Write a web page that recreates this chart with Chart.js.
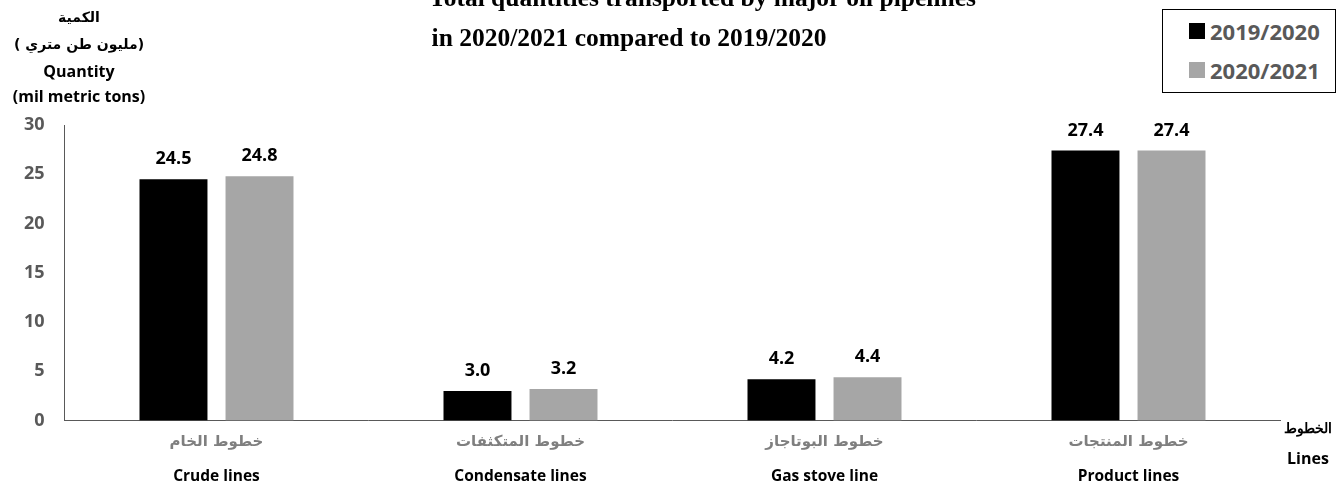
<!DOCTYPE html>
<html>
<head>
<meta charset="utf-8">
<script src="https://cdn.jsdelivr.net/npm/chart.js@4"></script>
<style>
    html, body { margin: 0; padding: 0; background: #fff; }
    #wrap { position: relative; width: 1338px; height: 487px; overflow: hidden; }
    #chart { position: absolute; left: 0; top: 0; }
    .title {
        position: absolute; left: 429px; width: 400px; text-align: center;
        font: bold 25.5px "Liberation Serif", serif; color: #000; white-space: nowrap;
    }
    .ytitle {
        position: absolute; left: 0; width: 158px; text-align: center;
        font: bold 16px "Open Sans", sans-serif; color: #000; white-space: nowrap;
    }
    .ar { font-family: "DejaVu Sans", sans-serif; font-size: 14px; font-weight: bold; }
    .paren { display: flex; justify-content: center; }
    #legend {
        position: absolute; left: 1162px; top: 9px; width: 172px; height: 82px;
        border: 1px solid #000; background: #fff;
    }
    .item {
        position: absolute; left: 26px; height: 26px; display: flex; align-items: center;
        font: bold 22px "Open Sans", sans-serif; color: #595959;
    }
    .swatch { width: 16px; height: 16px; margin-right: 5px; }
    .xtitle {
        position: absolute; width: 60px; left: 1278px; text-align: center;
        font: bold 16px "Open Sans", sans-serif; color: #000;
    }
</style>
</head>
<body>
<div id="wrap">
    <canvas id="chart" width="1338" height="487"></canvas>
    <div class="title" style="top:-17px">Total quantities transported by major oil pipelines</div>
    <div class="title" style="top:23px">in 2020/2021 compared to 2019/2020</div>
    <div class="ytitle ar" style="top:9px">الكمية</div>
    <div class="ytitle ar paren" style="top:36px"><span>(</span><span style="margin-left:5px" dir="rtl">مليون طن متري</span><span>)</span></div>
    <div class="ytitle" style="top:60px">Quantity</div>
    <div class="ytitle" style="top:85px">(mil metric tons)</div>
    <div class="xtitle ar" style="top:418px; font-size:14px">الخطوط</div>
    <div class="xtitle" style="top:447px">Lines</div>
    <div id="legend"></div>
</div>
<script>
const categoriesAr = ["خطوط الخام", "خطوط المتكثفات", "خطوط البوتاجاز", "خطوط المنتجات"];
const categoriesEn = ["Crude lines", "Condensate lines", "Gas stove line", "Product lines"];
const seriesNames = ["2019/2020", "2020/2021"];
const values2019 = [24.5, 3.0, 4.2, 27.4];
const values2020 = [24.8, 3.2, 4.4, 27.4];
const yTicks = [0, 5, 10, 15, 20, 25, 30];
const seriesColors = ["#000000", "#a6a6a6"];

const legendBox = document.getElementById("legend");
seriesNames.forEach((name, i) => {
    const item = document.createElement("div");
    item.className = "item";
    item.style.top = (i === 0 ? 8 : 47) + "px";
    item.innerHTML = '<span class="swatch" style="background:' + seriesColors[i] + '"></span>' + name;
    legendBox.appendChild(item);
});

const valueLabels = {
    id: "valueLabels",
    afterDatasetsDraw(chart) {
        const ctx = chart.ctx;
        ctx.save();
        ctx.font = "bold 18px 'Open Sans', sans-serif";
        ctx.fillStyle = "#000";
        ctx.textAlign = "center";
        ctx.textBaseline = "middle";
        chart.data.datasets.forEach((ds, i) => {
            chart.getDatasetMeta(i).data.forEach((bar, j) => {
                ctx.fillText(ds.data[j].toFixed(1), bar.x, bar.y - 20);
            });
        });
        ctx.restore();
    }
};

new Chart(document.getElementById("chart"), {
    type: "bar",
    data: {
        labels: categoriesAr,
        datasets: [
            { label: seriesNames[0], data: values2019, backgroundColor: seriesColors[0] },
            { label: seriesNames[1], data: values2020, backgroundColor: seriesColors[1] }
        ]
    },
    options: {
        responsive: false,
        animation: false,
        categoryPercentage: 0.566,
        barPercentage: 0.79,
        layout: { padding: { top: 125, right: 57.5, bottom: 0, left: 0 } },
        plugins: {
            legend: { display: false },
            tooltip: { enabled: false }
        },
        scales: {
            x: {
                grid: { display: false, drawTicks: false },
                border: { display: true, color: "#595959", width: 1 },
                ticks: {
                    padding: 13,
                    color: "#7f7f7f",
                    font: { family: "DejaVu Sans", size: 15, weight: "bold" }
                },
                afterFit: s => { s.height = 35; }
            },
            x2: {
                type: "category",
                position: "bottom",
                labels: categoriesEn,
                grid: { display: false, drawTicks: false },
                border: { display: false },
                ticks: {
                    padding: 12,
                    color: "#000",
                    font: { family: "Open Sans", size: 15.5, weight: "bold" }
                },
                afterFit: s => { s.height = 31.5; }
            },
            y: {
                min: 0,
                max: 30,
                afterBuildTicks: s => { s.ticks = yTicks.map(v => ({ value: v })); },
                grid: { display: false, drawTicks: false },
                border: { display: true, color: "#595959", width: 1 },
                ticks: {
                    padding: 20,
                    color: "#595959",
                    font: { family: "Open Sans", size: 18, weight: "bold" }
                },
                afterFit: s => { s.width = 64.5; }
            }
        }
    },
    plugins: [valueLabels]
});
</script>
</body>
</html>
